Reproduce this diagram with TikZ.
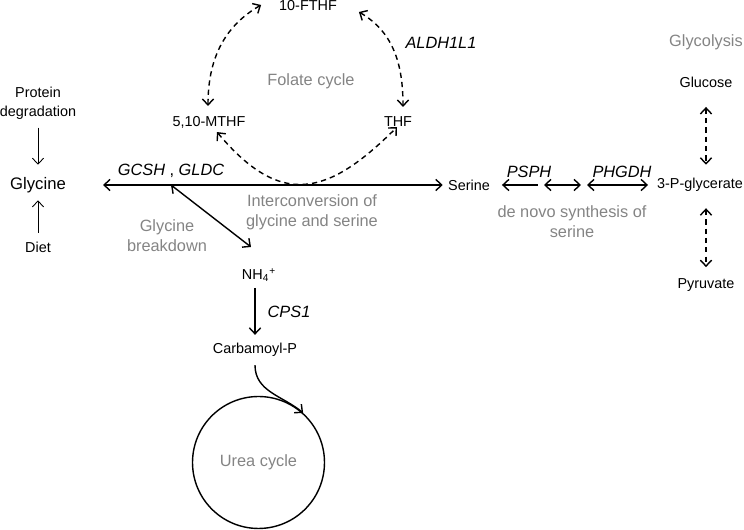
\documentclass[tikz,border=0pt]{standalone}
\usepackage{fontspec}
\setmainfont{Liberation Sans}
\usetikzlibrary{arrows.meta}
\definecolor{labelgray}{RGB}{132,132,132}
\tikzset{
  stoff/.style={font=\fontsize{8.2}{10.8}\selectfont, inner sep=1pt},
  enzym/.style={font=\fontsize{9.3}{11.3}\selectfont\itshape, inner sep=1pt},
  weg/.style={font=\fontsize{9.3}{11.3}\selectfont, text=labelgray, align=center, inner sep=1pt},
  pfeil/.style={<->, line width=0.8pt},
  duenn/.style={->, line width=0.5pt},
  gestrichelt/.style={<->, line width=0.8pt, dash pattern=on 3pt off 2.3pt},
}
\begin{document}
\begin{tikzpicture}[x=0.02cm, y=0.02cm, >={Straight Barb[length=3.4pt,width=6.4pt]}]
  \useasboundingbox (0,0) rectangle (744,530);
  % Stoffe
  \node[stoff] (fthf) at (308,524) {10-FTHF};
  \node[stoff] (mthf) at (209,408) {5,10-MTHF};
  \node[stoff] (thf) at (398,408) {THF};
  \node[stoff, align=center] (protein) at (38,427) {Protein\\degradation};
  \node[stoff, font=\fontsize{9.5}{11}\selectfont] (glycine) at (38,345) {Glycine};
  \node[stoff] (diet) at (38,283) {Diet};
  \node[stoff] (serine) at (469,345) {Serine};
  \node[stoff] (pglyc) at (700,345) {3-P-glycerate};
  \node[stoff] (glucose) at (706,448) {Glucose};
  \node[stoff] (pyruvate) at (706,245) {Pyruvate};
  \node[stoff] (nh4) at (259,255) {NH\textsubscript{4}\textsuperscript{+}};
  \node[stoff] (carb) at (255,180) {Carbamoyl-P};
  \node[weg, draw=black, circle, line width=0.8pt, minimum size=2.64cm, inner sep=0pt] (urea) at (258.5,67.5) {Urea cycle};
  % Enzyme
  \node[enzym] (aldh) at (441,487) {ALDH1L1};
  \node[enzym] (gcsh) at (171,359) {GCSH \textup{,} GLDC};
  \node[enzym] (psph) at (529,358) {PSPH};
  \node[enzym] (phgdh) at (622,358) {PHGDH};
  \node[enzym] (cps1) at (289,218) {CPS1};
  % Stoffwechselwege
  \node[weg] (folate) at (311,449) {Folate cycle};
  \node[weg] (interconv) at (312,318) {Interconversion of\\glycine and serine};
  \node[weg] (breakdown) at (167,294) {Glycine\\breakdown};
  \node[weg] (denovo) at (572,308) {de novo synthesis of\\serine};
  \node[weg] (glycolysis) at (706,488) {Glycolysis};
  % Hilfspunkte
  \coordinate (junc) at (171,345);
  \coordinate (brk) at (251,283);
  \coordinate (s1) at (538,345);
  \coordinate (s2) at (544,345);
  \coordinate (s3) at (581,345);
  \coordinate (s4) at (587,345);
  % Glycin
  \draw[duenn, shorten <=3.6pt, shorten >=5.9pt] (protein) -- (glycine);
  \draw[duenn, shorten <=3.9pt, shorten >=3.1pt] (diet) -- (glycine);
  \draw[pfeil, shorten <=20pt, shorten >=1.9pt] (glycine) -- (serine);
  \draw[pfeil] (junc) -- (brk);
  % Serinsynthese
  \draw[<-, line width=0.8pt, shorten <=5.7pt] (serine) -- (s1);
  \draw[pfeil] (s2) -- (s3);
  \draw[pfeil, shorten >=4pt] (s4) -- (pglyc);
  \draw[gestrichelt, shorten <=10pt, shorten >=6.5pt] (glucose) -- (glucose |- pglyc.north);
  \draw[gestrichelt, shorten <=8.2pt, shorten >=5.3pt] (glucose |- pglyc.south) -- (pyruvate);
  % Harnstoffzyklus
  \draw[->, line width=0.8pt, shorten <=2.5pt, shorten >=3.6pt] (carb |- nh4.south) -- (carb);
  \draw[->, line width=0.8pt] ([yshift=-3.6pt]carb.south) to[out=-90, in=140] (urea.48);
  % Folatzyklus
  \draw[gestrichelt] ([shift={(-1,8)}]mthf.north) to[out=90, in=210] ([shift={(-16,1)}]fthf.west);
  \draw[gestrichelt] ([shift={(20,-6)}]fthf.east) to[out=-30, in=90] ([shift={(5,8)}]thf.north);
  \draw[gestrichelt] ([shift={(8,-2)}]mthf.south) to[out=-50, in=225, looseness=1.4] ([shift={(-1,2)}]thf.south);
\end{tikzpicture}
\end{document}
